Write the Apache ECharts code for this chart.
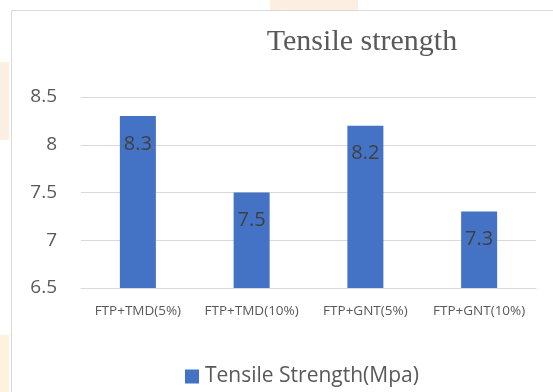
<!DOCTYPE html>
<html>
<head>
<meta charset="utf-8">
<script src="https://cdn.jsdelivr.net/npm/echarts@6/dist/echarts.min.js"></script>
<style>
html,body{margin:0;padding:0;background:#fff;}
#c{width:553px;height:392px;}
</style>
</head>
<body>
<div id="c"></div>
<script>
const categories = ['FTP+TMD(5%)', 'FTP+TMD(10%)', 'FTP+GNT(5%)', 'FTP+GNT(10%)'];
const tensileValues = [8.3, 7.5, 8.2, 7.3];
const seriesName = 'Tensile Strength(Mpa)';
const chartTitle = 'Tensile strength';

const chart = echarts.init(document.getElementById('c'));
chart.setOption({
  animation: false,
  backgroundColor: '#ffffff',
  title: {
    text: chartTitle,
    left: 357,
    textAlign: 'center',
    top: 22,
    textStyle: { fontFamily: 'Liberation Serif', fontSize: 30, fontWeight: 'normal', color: '#595959' }
  },
  graphic: [
    { type: 'rect', shape: { x: 270, y: 0, width: 88, height: 10 }, style: { fill: '#fdeee2' }, z: -10 },
    { type: 'rect', shape: { x: 0, y: 62, width: 9, height: 78 }, style: { fill: '#fdeee2' }, z: -10 },
    { type: 'rect', shape: { x: 0, y: 335, width: 9, height: 57 }, style: { fill: '#fdf3dc' }, z: -10 },
    { type: 'polyline', shape: { points: [[11.5, 392], [11.5, 10.5], [553, 10.5]] }, style: { stroke: '#d9d9d9', lineWidth: 1, fill: null } }
  ],
  legend: {
    data: [seriesName],
    top: 361,
    left: 180,
    itemWidth: 14,
    itemHeight: 14,
    itemGap: 6,
    icon: 'rect',
    textStyle: { fontFamily: 'Open Sans', fontSize: 21, color: '#595959', padding: [0, 0, 0, 1] }
  },
  grid: { left: 81, right: 17, top: 97, bottom: 104 },
  xAxis: {
    type: 'category',
    data: categories,
    axisLine: { show: true, lineStyle: { color: '#d9d9d9', width: 1 } },
    axisTick: { show: false },
    axisLabel: { fontFamily: 'Open Sans', fontSize: 13.5, color: '#595959', margin: 16, interval: 0 }
  },
  yAxis: {
    type: 'value',
    min: 6.5,
    max: 8.5,
    interval: 0.5,
    axisLine: { show: false },
    axisTick: { show: false },
    splitLine: { lineStyle: { color: '#d9d9d9', width: 1 } },
    axisLabel: { fontFamily: 'Open Sans', fontSize: 19, color: '#595959', margin: 24 }
  },
  series: [{
    name: seriesName,
    type: 'bar',
    data: tensileValues,
    barWidth: 36,
    itemStyle: { color: '#4472c4' },
    label: {
      show: true,
      position: 'insideTop',
      distance: 18,
      fontFamily: 'Open Sans',
      fontSize: 20,
      color: '#404040'
    }
  }]
});
</script>
</body>
</html>
